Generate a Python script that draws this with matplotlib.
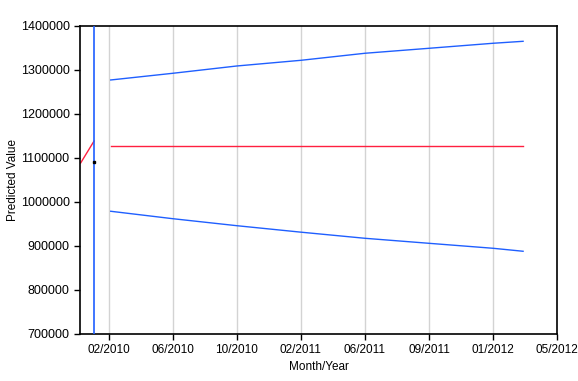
import matplotlib
matplotlib.use("Agg")
import matplotlib.pyplot as plt
from matplotlib.ticker import FormatStrFormatter

# =====================================================
# DATA (x in tick units, 0 = 02/2010)
# =====================================================

tick_labels = ["02/2010", "06/2010", "10/2010", "02/2011",
               "06/2011", "09/2011", "01/2012", "05/2012"]

hist_x = [-0.44, -0.23]
hist_y = [1088600, 1138600]

point_x = [-0.23]
point_y = [1091000]

split_x = -0.23

fc_x = [0.03, 1.0, 2.0, 3.0, 4.0, 5.0, 6.0, 6.47]
fc_mean = [1127000, 1127000, 1127000, 1127000, 1127000, 1127000, 1127000, 1127000]
fc_upper = [1277300, 1292500, 1309100, 1322000, 1338000, 1349300, 1360700, 1365200]
fc_lower = [978900, 962000, 946100, 931400, 917500, 906100, 894800, 888000]

# =====================================================
# PLOT
# =====================================================

plt.rcParams["font.family"] = ["Liberation Sans", "DejaVu Sans"]

fig = plt.figure(figsize=(5.78, 3.81), dpi=100)
ax = fig.add_axes([0.1384, 0.1234, 0.8253, 0.8084])

blue = "#1f5fff"
red = "#ff2040"

ax.axvline(split_x, color=blue, lw=1.2, zorder=3)

ax.plot(hist_x, hist_y, color=red, lw=1)
ax.plot(point_x, point_y, "s", color="black", ms=2, zorder=4)

ax.plot(fc_x, fc_mean, color=red, lw=1)
ax.plot(fc_x, fc_upper, color=blue, lw=1)
ax.plot(fc_x, fc_lower, color=blue, lw=1)

ax.set_xlim(-0.45, 7)
ax.set_ylim(700000, 1400000)

ax.set_xticks(range(len(tick_labels)))
ax.set_xticklabels(tick_labels)
ax.set_yticks(range(700000, 1400001, 100000))
ax.yaxis.set_major_formatter(FormatStrFormatter("%d"))

ax.grid(axis="x", color="#d3d3d3", lw=1)
ax.set_axisbelow(True)

ax.tick_params(length=4, width=1)
ax.tick_params(axis="y", labelsize=9)
ax.tick_params(axis="x", labelsize=8.5)
for s in ax.spines.values():
    s.set_linewidth(1.2)

ax.set_xlabel("Month/Year", fontsize=8.5, labelpad=3)
ax.set_ylabel("Predicted Value", fontsize=8.5, labelpad=1)

fig.savefig("out.png", dpi=100)
